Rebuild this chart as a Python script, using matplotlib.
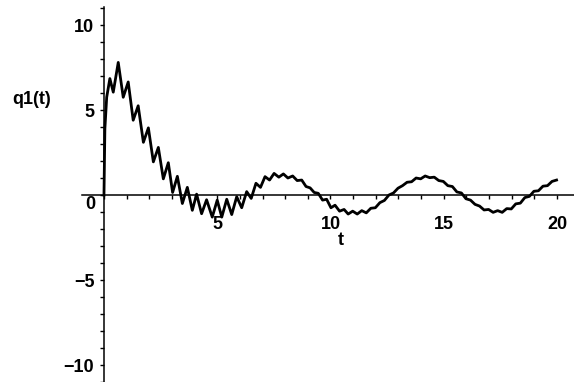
import matplotlib
matplotlib.use('Agg')
import matplotlib.pyplot as plt
from matplotlib.ticker import MultipleLocator

# values (ripple peaks / troughs)
t = [0.0, 0.04, 0.12, 0.26, 0.41, 0.63, 0.85, 1.07, 1.29, 1.51, 1.74, 1.96,
     2.18, 2.40, 2.62, 2.84, 3.03, 3.24, 3.46, 3.68, 3.90, 4.09, 4.31, 4.53,
     4.78, 5.00, 5.20, 5.42, 5.64, 5.86, 6.08, 6.30, 6.50, 6.71, 6.91, 7.11,
     7.31, 7.51, 7.72, 7.92, 8.12, 8.33, 8.53, 8.73, 8.92, 9.10, 9.28, 9.46,
     9.65, 9.83, 10.02, 10.20, 10.40, 10.60, 10.78, 10.98, 11.18, 11.38, 11.58,
     11.78, 11.98, 12.18, 12.38, 12.58, 12.78, 12.98, 13.18, 13.38, 13.58,
     13.78, 13.98, 14.18, 14.38, 14.58, 14.78, 14.98, 15.18, 15.38, 15.58,
     15.78, 15.98, 16.18, 16.38, 16.58, 16.78, 16.98, 17.18, 17.38, 17.58,
     17.78, 17.98, 18.18, 18.38, 18.58, 18.78, 18.98, 19.18, 19.38, 19.58,
     19.78, 19.98]
q1 = [0.0, 3.9, 5.75, 6.85, 6.05, 7.8, 5.75, 6.65, 4.4, 5.25, 3.1, 3.95,
      1.95, 2.8, 0.95, 1.9, 0.15, 1.1, -0.5, 0.45, -0.9, 0.05, -1.1, -0.28,
      -1.3, -0.3, -1.3, -0.25, -1.15, -0.1, -0.75, 0.2, -0.2, 0.69, 0.45, 1.08,
      0.88, 1.27, 1.05, 1.24, 1.0, 1.12, 0.85, 0.88, 0.5, 0.42, 0.15, 0.1,
      -0.3, -0.25, -0.75, -0.6, -0.95, -0.85, -1.12, -0.95, -1.12, -0.92, -1.05,
      -0.78, -0.75, -0.45, -0.32, 0.0, 0.12, 0.4, 0.55, 0.75, 0.78,
      1.0, 0.95, 1.12, 1.02, 1.05, 0.85, 0.8, 0.55, 0.5, 0.18,
      0.12, -0.22, -0.3, -0.55, -0.65, -0.88, -0.85, -1.02, -0.92, -1.02,
      -0.8, -0.82, -0.52, -0.48, -0.15, -0.08, 0.22, 0.25, 0.52, 0.55,
      0.8, 0.88]

xticks = [5, 10, 15, 20]
yticks = [-10, -5, 5, 10]

plt.rcParams['font.family'] = ['Liberation Sans', 'DejaVu Sans']
plt.rcParams['font.weight'] = 'bold'

fig = plt.figure(figsize=(5.74, 3.82), dpi=100)
ax = fig.add_axes([82/574, 0, 492/574, 375/382])

ax.plot(t, q1, color='black', lw=2.0, zorder=1)

ax.set_xlim(-0.97, 20.75)
ax.set_ylim(-11.0, 11.06)

ax.spines['left'].set_position(('data', 0))
ax.spines['bottom'].set_position(('data', 0))
ax.spines['top'].set_visible(False)
ax.spines['right'].set_visible(False)
for s in ['left', 'bottom']:
    ax.spines[s].set_linewidth(1.1)

ax.set_xticks(xticks)
ax.set_yticks(yticks)
ax.xaxis.set_minor_locator(MultipleLocator(1))
ax.yaxis.set_minor_locator(MultipleLocator(1))
ax.tick_params(axis='x', which='both', direction='out', length=3, width=1,
               pad=12, labelsize=13)
ax.tick_params(axis='y', which='both', direction='out', length=3, width=1,
               pad=4, labelsize=13)
for lab in ax.get_xticklabels() + ax.get_yticklabels():
    lab.set_fontweight('bold')

ax.text(-0.4, -0.55, '0', ha='right', va='center', fontsize=13,
        fontweight='bold')
ax.text(10.46, -2.7, 't', ha='center', va='center', fontsize=13,
        fontweight='bold')
fig.text(32/574, 1 - 100/382, 'q1(t)', ha='center', va='center',
         fontsize=13, fontweight='bold')

fig.savefig('out.png', dpi=100)
